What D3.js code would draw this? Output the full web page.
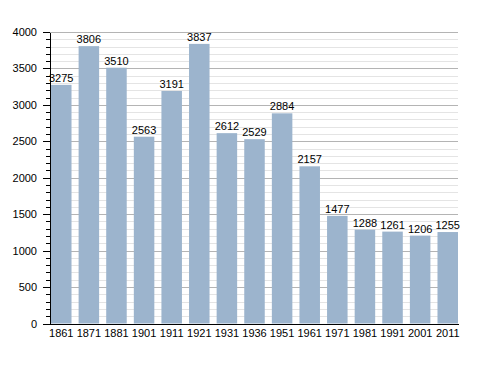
<!DOCTYPE html>
<html>
<head>
<meta charset='UTF-8' />
<style>
	body { margin: 0; background: #ffffff; }
	svg { font-family: 'Liberation Sans', Arial, sans-serif; font-size: 11px; }
	.bar { fill: #9cb4cd; }
	.major { stroke: #b4b4b4; stroke-width: 1px; shape-rendering: crispEdges; }
	.minor { stroke: #e4e4e4; stroke-width: 1px; shape-rendering: crispEdges; }
	.axis path, .axis line { stroke: #000000; shape-rendering: crispEdges; }
</style>
</head>
<body>
<script src='https://d3js.org/d3.v7.min.js'></script>
<script>
'use strict';
const years = ['1861', '1871', '1881', '1901', '1911', '1921', '1931', '1936', '1951', '1961', '1971', '1981', '1991', '2001', '2011'];
const population = [3275, 3806, 3510, 2563, 3191, 3837, 2612, 2529, 2884, 2157, 1477, 1288, 1261, 1206, 1255];
const yTicks = [0, 500, 1000, 1500, 2000, 2500, 3000, 3500, 4000];

const plotLeft = 50, plotRight = 458, plotTop = 32, plotBottom = 323.5;

const svg = d3.select('body').append('svg')
	.attr('width', 488)
	.attr('height', 373);

const x = d3.scaleBand()
	.domain(years)
	.range([plotLeft + 1, plotRight])
	.paddingInner(0.257)
	.paddingOuter(0);

const y = d3.scaleLinear()
	.domain([0, 4000])
	.range([plotBottom, plotTop]);

// minor gridlines every 100
svg.append('g').selectAll('line')
	.data(d3.range(100, 4001, 100).filter(function(d) { return d % 500 !== 0; }))
	.enter().append('line')
	.attr('class', 'minor')
	.attr('x1', plotLeft).attr('x2', plotRight)
	.attr('y1', function(d) { return Math.round(y(d)) + 0.5; })
	.attr('y2', function(d) { return Math.round(y(d)) + 0.5; });

// major gridlines
svg.append('g').selectAll('line')
	.data(yTicks.slice(1))
	.enter().append('line')
	.attr('class', 'major')
	.attr('x1', plotLeft).attr('x2', plotRight)
	.attr('y1', function(d) { return Math.round(y(d)) + 0.5; })
	.attr('y2', function(d) { return Math.round(y(d)) + 0.5; });

svg.selectAll('rect.bar')
	.data(population)
	.enter().append('rect')
	.attr('class', 'bar')
	.attr('x', function(d, i) { return x(years[i]); })
	.attr('width', x.bandwidth())
	.attr('y', function(d) { return y(d); })
	.attr('height', function(d) { return plotBottom - y(d); });

svg.selectAll('text.val')
	.data(population)
	.enter().append('text')
	.attr('class', 'val')
	.attr('x', function(d, i) { return x(years[i]) + x.bandwidth() / 2; })
	.attr('y', function(d) { return y(d) - 3; })
	.attr('text-anchor', 'middle')
	.attr('fill', '#000')
	.text(function(d) { return d; });

// y axis: minor ticks every 100, labels every 500
svg.append('g')
	.attr('class', 'axis')
	.attr('transform', 'translate(' + plotLeft + ',0)')
	.call(d3.axisLeft(y).tickValues(d3.range(0, 4001, 100)).tickSize(4).tickFormat(''))
	.call(function(g) { g.select('.domain').remove(); });

svg.append('g')
	.attr('class', 'axis')
	.attr('transform', 'translate(' + plotLeft + ',0)')
	.call(d3.axisLeft(y).tickValues(yTicks).tickSize(7).tickSizeOuter(0).tickPadding(6).tickFormat(d3.format('d')))
	.call(function(g) {
		g.selectAll('text').attr('fill', '#000').style('font-size', '11px').style('font-family', "'Liberation Sans', Arial, sans-serif");
	});

// x axis
svg.append('g')
	.attr('class', 'axis')
	.attr('transform', 'translate(0,' + plotBottom + ')')
	.call(d3.axisBottom(x).tickSize(0).tickPadding(6))
	.call(function(g) {
		g.select('.domain').attr('d', 'M' + plotLeft + ',0.5H' + (plotRight + 1));
		g.selectAll('text').attr('fill', '#000').style('font-size', '11px').style('font-family', "'Liberation Sans', Arial, sans-serif");
	});
</script>
</body>
</html>
